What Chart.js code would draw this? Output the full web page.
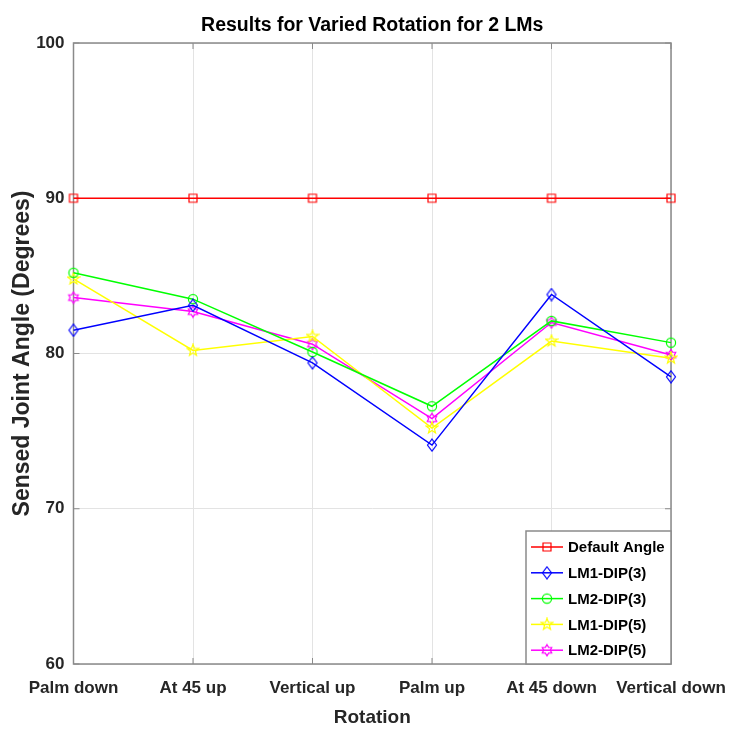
<!DOCTYPE html>
<html>
<head>
<meta charset="utf-8">
<script src="https://cdn.jsdelivr.net/npm/chart.js@4"></script>
<style>
  html, body { margin: 0; padding: 0; background: #fff; }
  #wrap { width: 729px; height: 729px; }
</style>
</head>
<body>
<div id="wrap"><canvas id="chart" width="729" height="729"></canvas></div>
<script>
// data
const categories   = ["Palm down", "At 45 up", "Vertical up", "Palm up", "At 45 down", "Vertical down"];
const defaultAngle = [90, 90, 90, 90, 90, 90];
const lm1Dip3      = [81.5, 83.1, 79.4, 74.1, 83.8, 78.5];
const lm2Dip3      = [85.2, 83.5, 80.1, 76.6, 82.1, 80.7];
const lm1Dip5      = [84.8, 80.2, 81.1, 75.2, 80.8, 79.7];
const lm2Dip5      = [83.6, 82.7, 80.6, 75.8, 82.0, 79.9];
const yTicks       = [60, 70, 80, 90, 100];
const seriesNames  = ["Default Angle", "LM1-DIP(3)", "LM2-DIP(3)", "LM1-DIP(5)", "LM2-DIP(5)"];

const FONT = "'Liberation Sans', Arial, Helvetica, sans-serif";
const TXT = "#262626";
const AXIS = "#8a8a8a";

// matlab-like open markers drawn on small canvases
function makeMarker(kind, color) {
    const c = document.createElement("canvas");
    const s = 14;
    c.width = s; c.height = s;
    const g = c.getContext("2d");
    const m = s / 2;
    g.strokeStyle = color;
    g.lineWidth = 1.2;
    g.beginPath();
    if (kind === "square") {
        g.rect(m - 4, m - 4, 8, 8);
    } else if (kind === "diamond") {
        g.moveTo(m, m - 6); g.lineTo(m + 4.5, m); g.lineTo(m, m + 6); g.lineTo(m - 4.5, m); g.closePath();
    } else if (kind === "circle") {
        g.arc(m, m, 4.6, 0, Math.PI * 2);
    } else if (kind === "pentagram") {
        for (let i = 0; i < 10; i++) {
            const r = i % 2 === 0 ? 6 : 2.5;
            const a = -Math.PI / 2 + i * Math.PI / 5;
            const x = m + r * Math.cos(a), y = m + r * Math.sin(a);
            if (i === 0) g.moveTo(x, y); else g.lineTo(x, y);
        }
        g.closePath();
    } else if (kind === "hexagram") {
        for (let i = 0; i < 12; i++) {
            const r = i % 2 === 0 ? 5.5 : 3.3;
            const a = -Math.PI / 2 + i * Math.PI / 6;
            const x = m + r * Math.cos(a), y = m + r * Math.sin(a);
            if (i === 0) g.moveTo(x, y); else g.lineTo(x, y);
        }
        g.closePath();
    }
    g.stroke();
    return c;
}

function serie(label, data, color, kind) {
    return {
        label: label,
        data: data,
        borderColor: color,
        backgroundColor: color,
        borderWidth: 1.5,
        pointStyle: makeMarker(kind, color),
        pointRadius: 5,
        pointHoverRadius: 5,
        tension: 0,
        fill: false,
        clip: false
    };
}

// axes box + inward tick marks (drawn under the lines)
const boxPlugin = {
    id: "box",
    beforeDatasetsDraw(chart) {
        const { ctx, chartArea: a, scales } = chart;
        ctx.save();
        ctx.strokeStyle = AXIS;
        ctx.lineWidth = 1.5;
        ctx.strokeRect(a.left, a.top, a.right - a.left, a.bottom - a.top);
        ctx.lineWidth = 1;
        ctx.beginPath();
        categories.forEach((c, i) => {
            const x = scales.x.getPixelForValue(i);
            ctx.moveTo(x, a.top); ctx.lineTo(x, a.top + 6);
            ctx.moveTo(x, a.bottom); ctx.lineTo(x, a.bottom - 6);
        });
        yTicks.forEach(v => {
            const y = scales.y.getPixelForValue(v);
            ctx.moveTo(a.left, y); ctx.lineTo(a.left + 6, y);
            ctx.moveTo(a.right, y); ctx.lineTo(a.right - 6, y);
        });
        ctx.stroke();
        ctx.restore();
    }
};

// title + legend in the lower right corner of the axes
const decorPlugin = {
    id: "decor",
    afterDraw(chart) {
        const { ctx, chartArea: a } = chart;
        ctx.save();
        ctx.fillStyle = "#000";
        ctx.font = "bold 19.5px " + FONT;
        ctx.textAlign = "center";
        ctx.textBaseline = "middle";
        ctx.fillText("Results for Varied Rotation for 2 LMs", (a.left + a.right) / 2, 26);

        const w = 145, h = 133;
        const x0 = a.right - w, y0 = a.bottom - h;
        ctx.fillStyle = "#fff";
        ctx.fillRect(x0, y0, w, h);
        ctx.strokeStyle = AXIS;
        ctx.lineWidth = 1.5;
        ctx.strokeRect(x0, y0, w, h);

        ctx.font = "bold 15px " + FONT;
        ctx.textAlign = "left";
        ctx.fillStyle = "#000";
        chart.data.datasets.forEach((ds, i) => {
            const y = y0 + 16 + i * 25.8;
            ctx.strokeStyle = ds.borderColor;
            ctx.lineWidth = 1.5;
            ctx.beginPath();
            ctx.moveTo(x0 + 5, y); ctx.lineTo(x0 + 37, y);
            ctx.stroke();
            const img = ds.pointStyle;
            ctx.drawImage(img, x0 + 21 - img.width / 2, y - img.height / 2);
            ctx.fillText(ds.label, x0 + 42, y + 1);
        });
        ctx.restore();
    }
};

new Chart(document.getElementById("chart"), {
    type: "line",
    data: {
        labels: categories,
        datasets: [
            serie(seriesNames[0], defaultAngle, "#ff0000", "square"),
            serie(seriesNames[1], lm1Dip3, "#0000ff", "diamond"),
            serie(seriesNames[2], lm2Dip3, "#00ff00", "circle"),
            serie(seriesNames[3], lm1Dip5, "#ffff00", "pentagram"),
            serie(seriesNames[4], lm2Dip5, "#ff00ff", "hexagram")
        ]
    },
    options: {
        responsive: false,
        animation: false,
        events: [],
        layout: { padding: { top: 43, right: 58, bottom: 0, left: 0 } },
        plugins: {
            legend: { display: false },
            title: { display: false },
            tooltip: { enabled: false }
        },
        scales: {
            x: {
                type: "category",
                offset: false,
                grid: { color: "#e3e3e3", lineWidth: 1, drawTicks: false },
                border: { display: false },
                ticks: {
                    color: TXT,
                    font: { family: FONT, size: 17, weight: "bold" },
                    padding: 14,
                    maxRotation: 0,
                    autoSkip: false
                },
                title: {
                    display: true,
                    text: "Rotation",
                    color: TXT,
                    font: { family: FONT, size: 19, weight: "bold" },
                    padding: { top: 0, bottom: 0 }
                },
                afterFit(scale) {
                    scale.height = 65;
                    scale.paddingLeft = 0;
                    scale.paddingRight = 0;
                }
            },
            y: {
                min: 60,
                max: 100,
                grid: { color: "#e3e3e3", lineWidth: 1, drawTicks: false },
                border: { display: false },
                afterBuildTicks(scale) { scale.ticks = yTicks.map(v => ({ value: v })); },
                ticks: {
                    color: TXT,
                    font: { family: FONT, size: 17, weight: "bold" },
                    padding: 9
                },
                title: {
                    display: true,
                    text: "Sensed Joint Angle (Degrees)",
                    color: TXT,
                    font: { family: FONT, size: 23, weight: "bold" },
                    padding: { top: 9, bottom: 0 }
                },
                afterFit(scale) { scale.width = 73.5; }
            }
        }
    },
    plugins: [boxPlugin, decorPlugin]
});
</script>
</body>
</html>
